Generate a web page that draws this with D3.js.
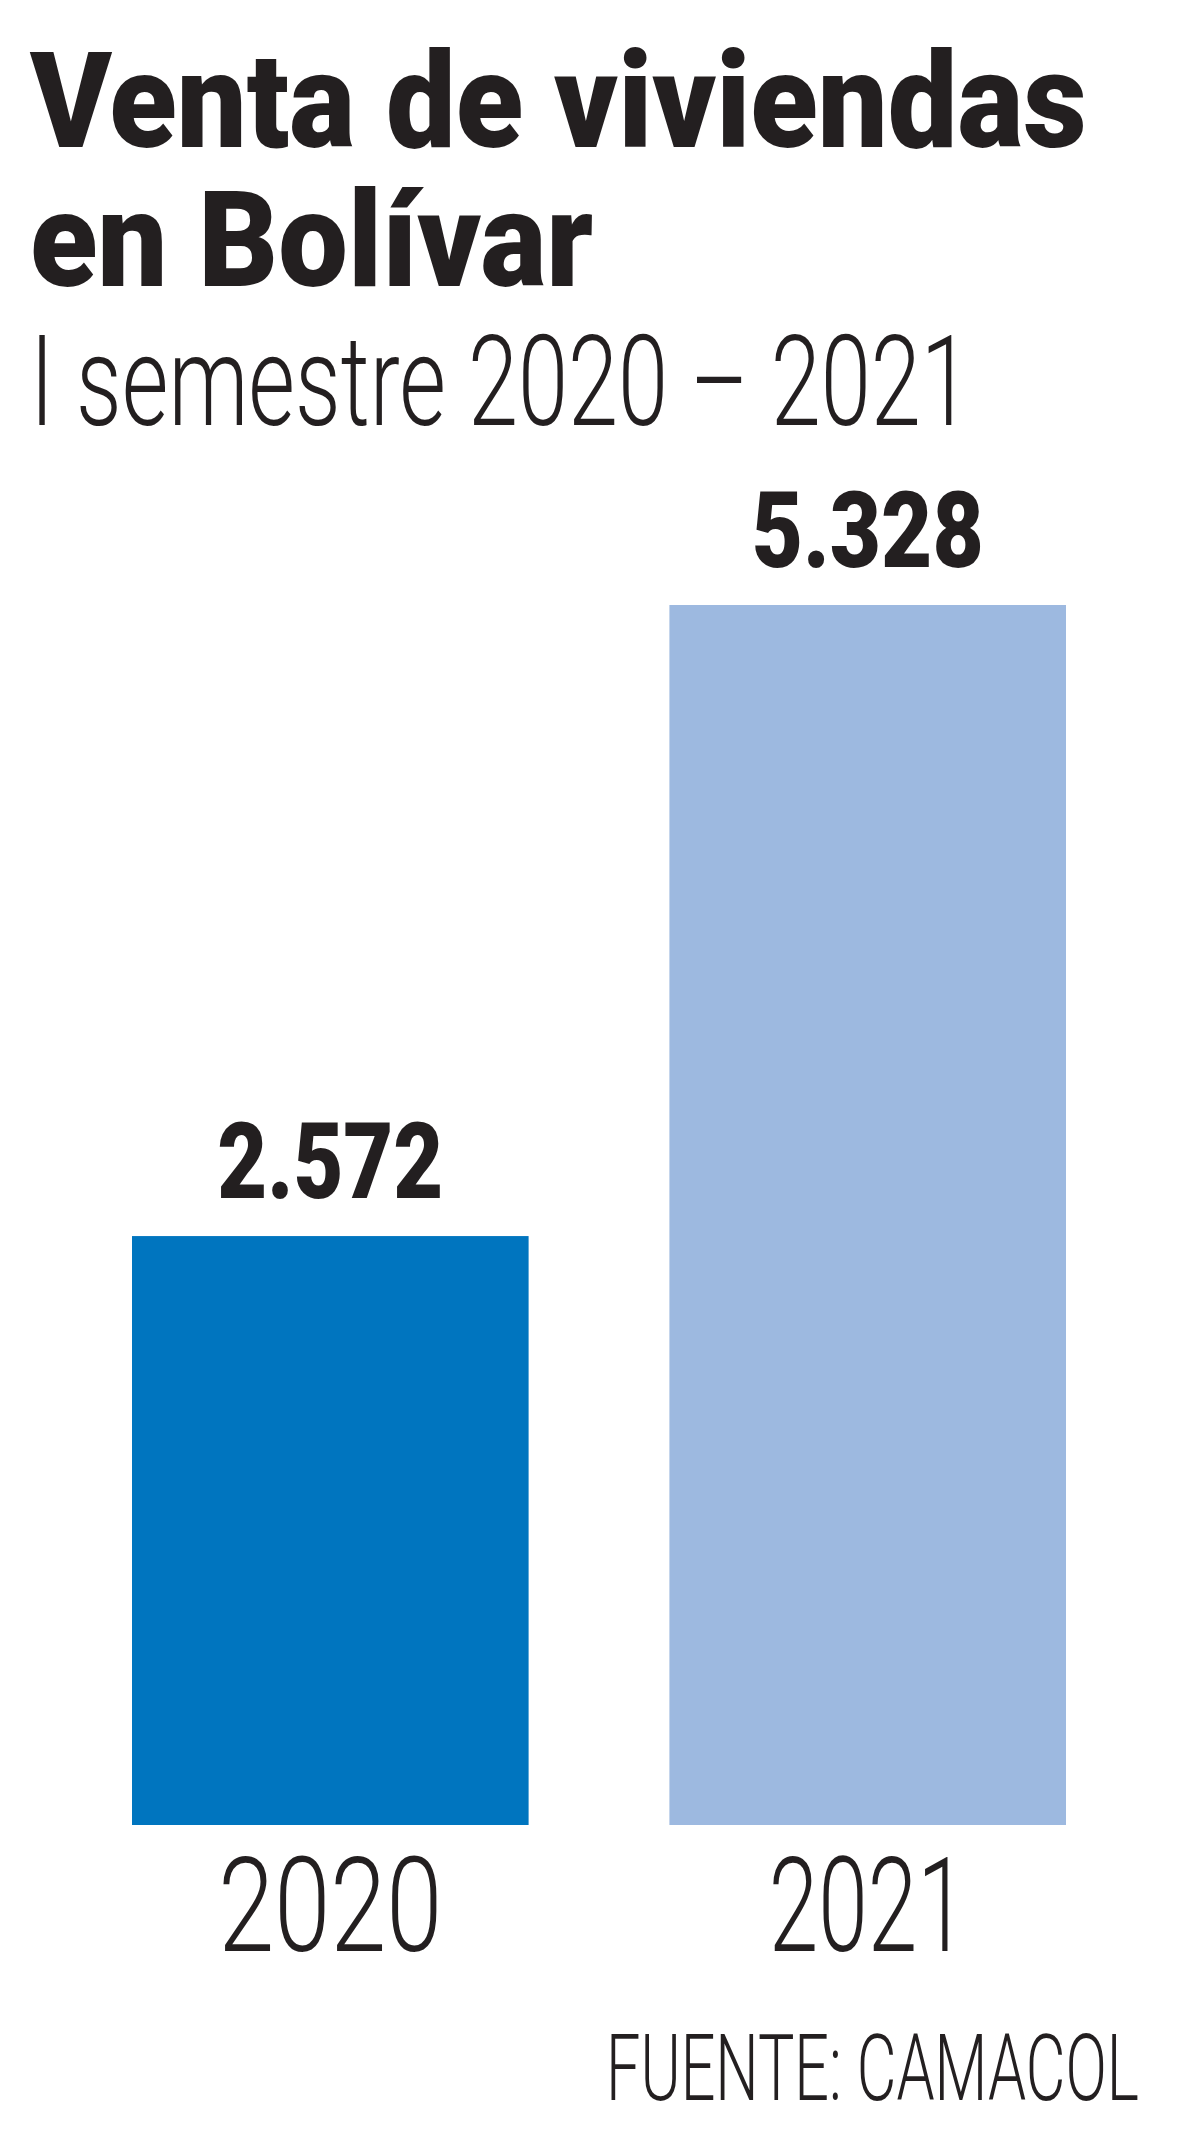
<!DOCTYPE html>
<html><head><meta charset="utf-8">
<script src="https://cdn.jsdelivr.net/npm/d3@7"></script>
<style>
html,body{margin:0;padding:0;background:#fff;}
svg{display:block;}
</style></head>
<body>
<svg id="chart" width="1200" height="2138"></svg>
<script>
const years = ["2020", "2021"];
const values = [2572, 5328];
const valueLabels = ["2.572", "5.328"];
const barColors = ["#0075BF", "#9DB9E0"];
const titleLines = ["Venta de viviendas", "en Bolívar"];
const subtitle = "I semestre 2020 – 2021";
const source = "FUENTE: CAMACOL";

const ink = "#231F20";
const FONT = "Roboto, 'Liberation Sans', sans-serif";
const svg = d3.select("#chart");

// Place a text at (x, y) and squeeze it horizontally to a target width
function fitText(g, str, x, y, w, size, weight, anchor) {
  const t = g.append("text")
    .attr("font-family", FONT)
    .attr("font-weight", weight)
    .attr("font-size", size)
    .attr("fill", ink)
    .attr("text-anchor", anchor || "start")
    .text(str);
  const nat = t.node().getComputedTextLength();
  t.attr("transform", `translate(${x},${y}) scale(${w / nat},1)`);
  return t;
}

// Title: one text block, two lines, squeezed to the width of line 1
const title = svg.append("text")
  .attr("font-family", FONT)
  .attr("font-weight", 900)
  .attr("font-size", 134)
  .attr("fill", ink);
const tspans = title.selectAll("tspan").data(titleLines).join("tspan")
  .attr("x", 0)
  .attr("y", (d, i) => i * 139)
  .text(d => d);
const nat1 = tspans.nodes()[0].getComputedTextLength();
title.attr("transform", `translate(30,147) scale(${1057 / nat1},1)`);

fitText(svg, subtitle, 30, 425, 941, 126, 300);

// Scales
const x = d3.scaleBand().domain(years).range([132, 1066]).paddingInner(0.262).paddingOuter(0);
const y = d3.scaleLinear().domain([0, d3.max(values)]).range([1825, 605]);

const data = years.map((yr, i) => ({yr, v: values[i], lab: valueLabels[i], c: barColors[i]}));

svg.append("g").selectAll("rect").data(data).join("rect")
  .attr("x", d => x(d.yr))
  .attr("y", d => y(d.v))
  .attr("width", x.bandwidth())
  .attr("height", d => y(0) - y(d.v))
  .attr("fill", d => d.c);

const labelW = [226, 232];
const labG = svg.append("g");
data.forEach((d, i) => {
  fitText(labG, d.lab, x(d.yr) + x.bandwidth() / 2, y(d.v) - 38, labelW[i], 106, 900, "middle");
});

// Axis (year labels)
const axis = svg.append("g")
  .attr("transform", `translate(0, ${y(0)})`)
  .call(d3.axisBottom(x).tickSize(0).tickPadding(0));
axis.select(".domain").remove();
const yearW = [224, 198];
axis.selectAll(".tick text")
  .attr("font-family", FONT)
  .attr("font-weight", 300)
  .attr("font-size", 132)
  .attr("fill", ink)
  .attr("dy", 0)
  .attr("y", 0)
  .each(function(d, i) {
    const nat = this.getComputedTextLength();
    d3.select(this).attr("transform", `translate(0,126) scale(${yearW[i] / nat},1)`);
  });

// Source
fitText(svg, source, 1139, 2100, 533, 93, 300, "end");
</script>
</body></html>
